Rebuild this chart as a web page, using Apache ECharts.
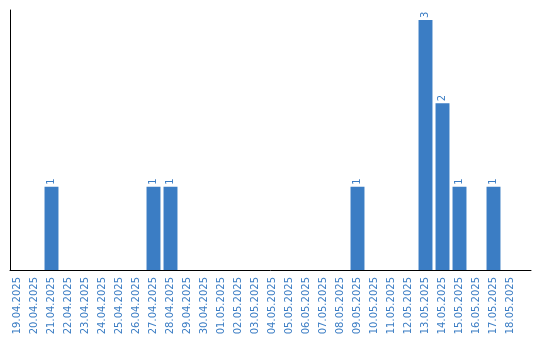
<!DOCTYPE html>
<html>
<head>
<meta charset="utf-8">
<script src="https://cdn.jsdelivr.net/npm/echarts@6/dist/echarts.min.js"></script>
<style>
  html, body { margin: 0; padding: 0; background: #fff; }
  #chart { width: 540px; height: 340px; }
</style>
</head>
<body>
<div id="chart"></div>
<script>
const dates = [
  '19.04.2025', '20.04.2025', '21.04.2025', '22.04.2025', '23.04.2025',
  '24.04.2025', '25.04.2025', '26.04.2025', '27.04.2025', '28.04.2025',
  '29.04.2025', '30.04.2025', '01.05.2025', '02.05.2025', '03.05.2025',
  '04.05.2025', '05.05.2025', '06.05.2025', '07.05.2025', '08.05.2025',
  '09.05.2025', '10.05.2025', '11.05.2025', '12.05.2025', '13.05.2025',
  '14.05.2025', '15.05.2025', '16.05.2025', '17.05.2025', '18.05.2025'
]
const counts = [
  0, 0, 1, 0, 0,
  0, 0, 0, 1, 1,
  0, 0, 0, 0, 0,
  0, 0, 0, 0, 0,
  1, 0, 0, 0, 3,
  2, 1, 0, 1, 0
]

const blue = '#3b7dc4'
const chart = echarts.init(document.getElementById('chart'))

const option = {
  animation: false,
  textStyle: { fontFamily: 'DejaVu Sans' },
  grid: [
    { left: 9, right: 21, top: 10, bottom: 70 },
    // frame grid: the axis lines run a bit past the plotted categories
    { left: 10, right: 9, top: 10, bottom: 70 }
  ],
  xAxis: [
    {
      type: 'category',
      gridIndex: 0,
      data: dates,
      axisLine: { show: false },
      axisTick: { show: false },
      axisLabel: {
        rotate: 90,
        interval: 0,
        margin: 7,
        color: blue,
        fontSize: 10,
        fontFamily: 'DejaVu Sans'
      }
    },
    {
      type: 'value',
      gridIndex: 1,
      axisLine: { show: true, onZero: false, lineStyle: { color: '#000', width: 1 } },
      axisTick: { show: false },
      axisLabel: { show: false },
      splitLine: { show: false }
    }
  ],
  yAxis: [
    {
      type: 'value',
      gridIndex: 0,
      min: 0,
      max: 3.12,
      axisLine: { show: false },
      axisTick: { show: false },
      axisLabel: { show: false },
      splitLine: { show: false }
    },
    {
      type: 'value',
      gridIndex: 1,
      axisLine: { show: true, onZero: false, lineStyle: { color: '#000', width: 1 } },
      axisTick: { show: false },
      axisLabel: { show: false },
      splitLine: { show: false }
    }
  ],
  series: [
    {
      type: 'bar',
      xAxisIndex: 0,
      yAxisIndex: 0,
      data: counts.map(v => (v === 0 ? null : v)),
      barCategoryGap: '18%',
      itemStyle: { color: blue },
      label: {
        show: true,
        position: 'top',
        rotate: 90,
        align: 'left',
        verticalAlign: 'middle',
        distance: 2,
        color: blue,
        fontSize: 10,
        fontFamily: 'DejaVu Sans'
      }
    }
  ]
}

chart.setOption(option)
</script>
</body>
</html>
